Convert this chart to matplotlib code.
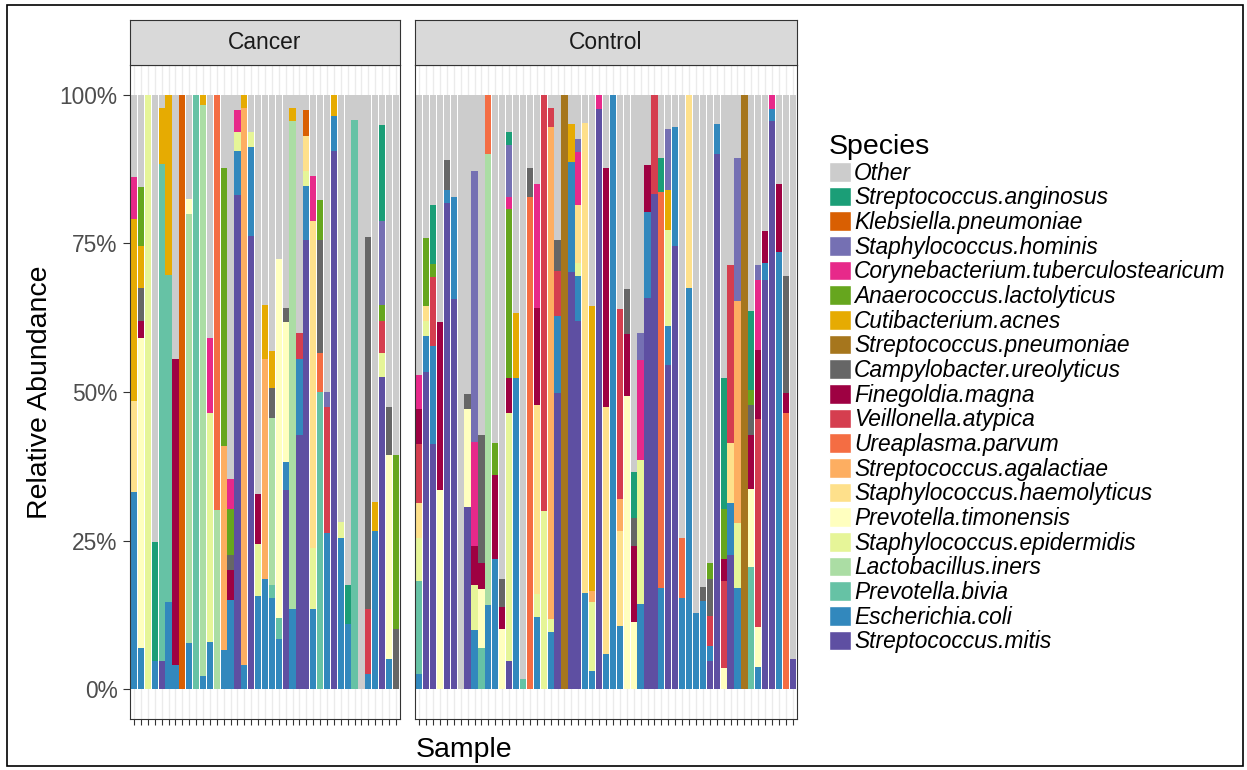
import numpy as np
import matplotlib.pyplot as plt
from matplotlib.patches import Patch, Rectangle

plt.rcParams["font.family"] = ["Liberation Sans", "DejaVu Sans"]

# legend order (top of stack first)
species = [
    "Other", "Streptococcus.anginosus", "Klebsiella.pneumoniae",
    "Staphylococcus.hominis", "Corynebacterium.tuberculostearicum",
    "Anaerococcus.lactolyticus", "Cutibacterium.acnes",
    "Streptococcus.pneumoniae", "Campylobacter.ureolyticus",
    "Finegoldia.magna", "Veillonella.atypica", "Ureaplasma.parvum",
    "Streptococcus.agalactiae", "Staphylococcus.haemolyticus",
    "Prevotella.timonensis", "Staphylococcus.epidermidis",
    "Lactobacillus.iners", "Prevotella.bivia", "Escherichia.coli",
    "Streptococcus.mitis",
]
codes = ["Oth", "Sang", "Kpne", "Shom", "Ctub", "Alac", "Cacn", "Spne", "Cure",
         "Fmag", "Vaty", "Upar", "Saga", "Shae", "Ptim", "Sepi", "Lin", "Pbiv",
         "Eco", "Smit"]
colors = ["#cccccc", "#1b9e77", "#d95f02", "#7570b3", "#e7298a", "#66a61e",
          "#e6ab02", "#a6761d", "#666666", "#9e0142", "#d53e4f", "#f46d43",
          "#fdae61", "#fee08b", "#ffffbf", "#e6f598", "#abdda4", "#66c2a5",
          "#3288bd", "#5e4fa2"]

# relative abundance (%) per sample, "Other" is the rest up to 100
cancer = [
    {"Eco": 33.2, "Shae": 15.3, "Cacn": 30.6, "Ctub": 7.0},
    {"Eco": 6.9, "Ptim": 52.2, "Fmag": 2.9, "Cure": 5.5, "Cacn": 7.1, "Alac": 9.9},
    {"Sepi": 100},
    {"Eco": 4.7, "Sang": 20.1},
    {"Smit": 4.7, "Pbiv": 83.6, "Cacn": 9.5},
    {"Eco": 14.6, "Pbiv": 55.1, "Cacn": 30.3},
    {"Eco": 4.0, "Fmag": 51.5},
    {"Kpne": 100},
    {"Eco": 7.7, "Lin": 72.2, "Ptim": 2.6},
    {"Pbiv": 100},
    {"Eco": 2.2, "Lin": 96.0, "Cacn": 1.8},
    {"Eco": 8.0, "Sepi": 38.4, "Ctub": 12.7},
    {"Lin": 30.2, "Upar": 69.8},
    {"Eco": 6.6, "Saga": 34.3, "Alac": 46.7},
    {"Eco": 15.0, "Fmag": 5.1, "Cure": 2.5, "Alac": 7.7, "Ctub": 5.1},
    {"Smit": 83.2, "Eco": 7.3, "Sepi": 3.3, "Ctub": 3.6},
    {"Eco": 4.0, "Saga": 93.8, "Cacn": 2.2},
    {"Smit": 76.3, "Eco": 14.9, "Sepi": 2.6},
    {"Eco": 15.7, "Sepi": 8.8, "Fmag": 8.3},
    {"Eco": 18.6, "Saga": 36.9, "Cacn": 9.1},
    {"Eco": 15.3, "Pbiv": 2.2, "Lin": 28.1, "Cure": 5.1, "Cacn": 6.2},
    {"Eco": 8.4, "Pbiv": 3.6, "Ptim": 60.3},
    {"Smit": 33.6, "Eco": 4.7, "Ptim": 23.4, "Cure": 2.5},
    {"Eco": 13.5, "Lin": 82.1, "Cacn": 2.2},
    {"Smit": 42.7, "Eco": 12.8, "Vaty": 4.5},
    {"Smit": 75.5, "Eco": 9.2, "Sepi": 2.5, "Shae": 5.9, "Kpne": 4.3},
    {"Eco": 13.5, "Sepi": 10.2, "Shae": 55.1, "Ctub": 7.5},
    {"Pbiv": 50.0, "Upar": 6.6, "Cure": 18.9, "Alac": 6.8},
    {"Eco": 26.3, "Vaty": 21.2, "Shom": 2.5},
    {"Smit": 90.5, "Eco": 5.9, "Cacn": 3.6},
    {"Eco": 25.5, "Sepi": 2.6},
    {"Eco": 10.9, "Sang": 6.6},
    {"Pbiv": 95.8},
    {},
    {"Eco": 2.6, "Vaty": 10.9, "Cure": 62.6},
    {"Eco": 26.6, "Cacn": 4.9},
    {"Smit": 52.6, "Sepi": 4.0, "Vaty": 5.4, "Alac": 2.6, "Shom": 14.2, "Sang": 16.1},
    {"Eco": 5.1, "Ptim": 34.3, "Cure": 8.0},
    {"Cure": 10.2, "Alac": 29.2},
]

control = [
    {"Eco": 2.6, "Pbiv": 15.6, "Sepi": 7.3, "Shae": 5.9, "Vaty": 9.8, "Fmag": 5.9, "Ctub": 5.7},
    {"Smit": 53.3, "Eco": 6.2, "Sepi": 2.5, "Shae": 2.4, "Alac": 11.5},
    {"Smit": 41.2, "Eco": 16.5, "Vaty": 11.6, "Alac": 2.2, "Sang": 9.9},
    {"Ptim": 33.6, "Fmag": 28.1},
    {"Smit": 81.8, "Eco": 2.2, "Cure": 5.1},
    {"Smit": 65.7, "Eco": 17.1},
    {},
    {"Smit": 30.7, "Ptim": 16.4, "Cure": 2.5},
    {"Eco": 9.9, "Sepi": 7.6, "Fmag": 6.6, "Ctub": 17.5, "Shom": 45.6},
    {"Pbiv": 6.9, "Ptim": 9.9, "Fmag": 4.4, "Cure": 21.5},
    {"Eco": 14.2, "Lin": 75.9, "Upar": 9.9},
    {"Eco": 21.9, "Fmag": 14.2, "Alac": 5.4},
    {"Ptim": 10.2, "Fmag": 3.7, "Cure": 4.7},
    {"Smit": 4.7, "Sepi": 41.7, "Fmag": 6.0, "Alac": 28.3, "Ctub": 2.1, "Shom": 8.8, "Sang": 2.2},
    {"Eco": 52.3, "Cacn": 11.0},
    {"Pbiv": 1.8},
    {"Upar": 82.8, "Cure": 4.8},
    {"Eco": 12.2, "Sepi": 3.9, "Shae": 31.7, "Fmag": 16.4, "Ctub": 20.8},
    {"Sepi": 30.0, "Vaty": 70.0},
    {"Eco": 9.6, "Sepi": 2.2, "Saga": 82.7, "Vaty": 3.3},
    {"Smit": 49.8, "Eco": 13.0, "Vaty": 7.6, "Cure": 5.1},
    {"Spne": 100},
    {"Smit": 70.2, "Eco": 18.5, "Cacn": 6.4},
    {"Smit": 61.9, "Eco": 7.6, "Sepi": 2.2, "Shae": 9.7, "Ctub": 8.9, "Shom": 2.2},
    {"Eco": 16.2, "Shae": 79.1},
    {"Eco": 3.1, "Sepi": 11.5, "Saga": 2.0, "Cacn": 47.8},
    {"Smit": 97.6, "Ctub": 2.4},
    {"Eco": 6.0, "Shae": 41.4, "Fmag": 40.3},
    {"Eco": 100},
    {"Eco": 10.6, "Shae": 16.0, "Saga": 5.4, "Vaty": 31.9},
    {"Ptim": 49.3, "Fmag": 10.4, "Cure": 7.6},
    {"Ptim": 11.3, "Fmag": 12.8, "Cure": 4.7, "Sang": 7.7},
    {"Eco": 14.4, "Sepi": 24.1, "Ctub": 16.8, "Shom": 4.7},
    {"Smit": 65.8, "Eco": 14.5, "Fmag": 7.9},
    {"Smit": 83.3, "Vaty": 16.7},
    {"Eco": 17.1, "Upar": 66.5, "Sang": 5.8},
    {"Smit": 54.5, "Eco": 6.6, "Sepi": 16.1, "Cacn": 6.7, "Shom": 10.4},
    {"Smit": 74.6, "Eco": 19.9},
    {"Eco": 15.3, "Upar": 10.2},
    {"Eco": 67.5, "Shae": 32.5},
    {"Eco": 12.8},
    {"Eco": 14.9, "Cure": 2.3},
    {"Smit": 4.7, "Eco": 2.6, "Vaty": 5.1, "Cure": 6.2, "Alac": 2.6},
    {"Smit": 90.1, "Eco": 4.9},
    {"Ptim": 3.6, "Vaty": 14.6, "Fmag": 3.7, "Alac": 8.4, "Sang": 22.0},
    {"Smit": 22.6, "Eco": 8.8, "Shae": 10.1, "Vaty": 29.9},
    {"Eco": 17.1, "Sepi": 10.8, "Saga": 37.4, "Shom": 24.1},
    {"Spne": 100},
    {"Pbiv": 20.6, "Ptim": 13.1, "Fmag": 9.0, "Cure": 5.1, "Alac": 2.6, "Sang": 13.3},
    {"Eco": 3.8, "Ptim": 6.6, "Vaty": 35.0, "Fmag": 11.7, "Ctub": 11.7, "Shom": 2.6},
    {"Smit": 68.8, "Eco": 2.9, "Fmag": 5.3},
    {"Smit": 95.6, "Eco": 2.0, "Ctub": 2.4},
    {"Eco": 73.6, "Fmag": 11.4},
    {"Upar": 46.4, "Fmag": 3.4, "Cure": 19.7},
    {"Smit": 5.1},
]

W, H = 1247, 770
fig = plt.figure(figsize=(W / 100, H / 100), dpi=100)

EDGE = "#333333"


def draw_panel(left, right, samples, title, first):
    ax = fig.add_axes([left / W, 1 - 719 / H, (right - left) / W, (719 - 65) / H])
    n = len(samples)
    x = np.arange(n)
    bottom = np.zeros(n)
    # stack from the bottom of the legend up to "Other"
    for code, col in zip(codes[::-1], colors[::-1]):
        if code == "Oth":
            vals = np.array([100 - sum(s.values()) for s in samples])
        else:
            vals = np.array([s.get(code, 0) for s in samples])
        ax.bar(x, vals, bottom=bottom, width=0.9, color=col, linewidth=0)
        bottom += vals
    ax.set_xlim(-0.6, n - 0.4)
    ax.set_ylim(-5, 105)
    ax.set_xticks(x)
    ax.set_xticklabels([])
    ax.set_axisbelow(True)
    ax.grid(axis="x", color="#ebebeb", lw=1)
    ax.tick_params(axis="x", length=4, width=0.8, color=EDGE)
    if first:
        ax.set_yticks([0, 25, 50, 75, 100])
        ax.set_yticklabels(["0%", "25%", "50%", "75%", "100%"])
        ax.tick_params(axis="y", length=5, width=0.8, color=EDGE,
                       labelsize=16.4, labelcolor="#4d4d4d", pad=4)
    else:
        ax.set_yticks([])
    for sp in ax.spines.values():
        sp.set_color(EDGE)
        sp.set_linewidth(0.8)

    sax = fig.add_axes([left / W, 1 - 65 / H, (right - left) / W, 45 / H])
    sax.set_facecolor("#d9d9d9")
    sax.set_xticks([])
    sax.set_yticks([])
    for sp in sax.spines.values():
        sp.set_color(EDGE)
        sp.set_linewidth(0.8)
    sax.text(0.5, 0.5, title, ha="center", va="center", fontsize=16.4,
             color="#1a1a1a", transform=sax.transAxes)
    return ax


draw_panel(130, 400, cancer, "Cancer", True)
draw_panel(415, 797, control, "Control", False)

fig.text(40 / W, 1 - 392 / H, "Relative Abundance", rotation=90,
         ha="center", va="center", fontsize=20.5)
fig.text(463.5 / W, 1 - 750 / H, "Sample", ha="center", va="center",
         fontsize=20.5)

handles = [Patch(facecolor=c, edgecolor="white", lw=1) for c in colors]
fig.legend(handles, species, loc="upper left",
           bbox_to_anchor=(829 / W, 1 - 134 / H), frameon=False,
           title="Species", title_fontsize=20.5,
           prop={"style": "italic", "size": 16.4},
           handlelength=0.95, handleheight=0.95, labelspacing=0.073,
           handletextpad=0.15, borderpad=0, borderaxespad=0,
           alignment="left")

fig.patches.append(Rectangle((7 / W, 1 - 766 / H), 1236 / W, 761 / H,
                             transform=fig.transFigure, fill=False,
                             ec="black", lw=1.2))

fig.savefig("out.png", dpi=100)
